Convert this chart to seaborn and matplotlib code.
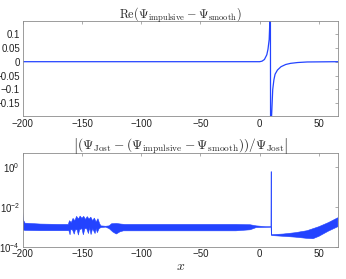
import matplotlib
matplotlib.use("Agg")
import matplotlib.pyplot as plt
import numpy as np
import pandas as pd
import seaborn as sns

# top panel: Re(Psi_impulsive - Psi_smooth)
x_re = [-200, -100, 0, 2, 4, 6, 7, 8, 8.6, 9.0, 9.2, 10, 11, 12, 13, 15, 18, 22, 26, 32, 40, 66]
y_re = [0, 0, 0, 0.002, 0.008, 0.025, 0.045, 0.08, 0.15, 0.3, -0.3, -0.2, -0.1, -0.065,
        -0.045, -0.03, -0.018, -0.01, -0.006, -0.003, -0.001, 0]

# bottom panel: upper / lower envelope of the oscillating relative error band
x_up = [-200, -199.5, -198, -185, -170, -161.5, -160.5, -159, -157.5, -156, -154.5, -153,
        -151.5, -150, -148.5, -147, -145.5, -144, -142.5, -141, -139.5, -138, -136.5, -135,
        -134, -130, -127, -125, -121, -117, -114, -100, -60, -20, -8, -3, 5, 9.5, 9.6, 9.9,
        10.1, 20, 30, 40, 50, 58, 66]
y_up = [5.5e-3, 2.2e-3, 1.5e-3, 1.35e-3, 1.3e-3, 1.3e-3, 2.0e-3, 1.6e-3, 2.6e-3, 2.0e-3,
        3.3e-3, 2.4e-3, 3.4e-3, 2.6e-3, 3.3e-3, 2.3e-3, 3.2e-3, 2.4e-3, 3.0e-3, 2.0e-3,
        2.7e-3, 1.7e-3, 2.5e-3, 1.4e-3, 1.1e-3, 1.05e-3, 1.1e-3, 1.4e-3, 1.45e-3, 1.35e-3,
        1.3e-3, 1.3e-3, 1.3e-3, 1.3e-3, 1.25e-3, 1.1e-3, 1.0e-3, 1.0e-3, 0.56, 0.56,
        4.0e-4, 4.3e-4, 5.0e-4, 6.3e-4, 1.0e-3, 1.6e-3, 2.8e-3]
x_lo = [-200, -198, -185, -170, -161, -160, -159.5, -158, -156.5, -155.5, -154, -153, -152,
        -150, -148.8, -147.5, -146, -144.5, -143.5, -142.3, -141, -138.9, -138, -137, -135.5,
        -134, -130, -127, -124, -121, -118, -115, -100, -60, -20, -8, -3, 5, 9.6, 9.9, 10.1,
        20, 30, 40, 45, 50, 58, 66]
y_lo = [7e-4, 6.5e-4, 6.3e-4, 6.3e-4, 6.3e-4, 3.9e-4, 7e-4, 7e-4, 4.2e-4, 7e-4, 7e-4,
        3.8e-4, 7e-4, 8e-4, 3.9e-4, 8e-4, 8e-4, 4.5e-4, 9e-4, 4e-4, 8e-4, 4.5e-4, 8e-4,
        5e-4, 8e-4, 9e-4, 9.5e-4, 8e-4, 5.5e-4, 4.3e-4, 5.5e-4, 6.2e-4, 6.2e-4, 6.2e-4,
        6.2e-4, 7e-4, 9e-4, 9.2e-4, 9.4e-4, 3.7e-4, 3.6e-4, 3.3e-4, 3.0e-4, 2.6e-4, 2.5e-4,
        3.3e-4, 6e-4, 1.0e-3]

xticks = [-200, -150, -100, -50, 0, 50]
yticks_top = [-0.15, -0.1, -0.05, 0, 0.05, 0.1]
ytick_labels_top = ["\u22120.15", "\u22120.1", "\u22120.05", "0", "0.05", "0.1"]
yticks_bot = [1e-4, 1e-2, 1e0]
ytick_labels_bot = [r"$\mathregular{10^{-4}}$", r"$\mathregular{10^{-2}}$", r"$\mathregular{10^{0}}$"]

blue = "#2343ff"
grey = "#8c8c8c"

sns.set_style("white")
plt.rcParams["font.family"] = ["Liberation Sans", "DejaVu Sans"]
plt.rcParams["mathtext.fontset"] = "cm"

fig = plt.figure(figsize=(3.46, 2.79), dpi=100)
ax1 = fig.add_axes([0.0656, 0.585, 0.911, 0.341])
ax2 = fig.add_axes([0.0656, 0.1158, 0.911, 0.337])

df_re = pd.DataFrame({"x": x_re, "y": y_re})
sns.lineplot(data=df_re, x="x", y="y", ax=ax1, color=blue, lw=0.9, estimator=None, sort=False)
ax1.set_xlim(-200, 66)
ax1.set_ylim(-0.195, 0.148)
ax1.set_yticks(yticks_top)
ax1.set_yticklabels(ytick_labels_top)
ax1.set_title(r"$\mathrm{Re}(\Psi_{\mathrm{impulsive}} - \Psi_{\mathrm{smooth}})$", fontsize=8.8, pad=2)

band_x = np.r_[x_up, x_lo[::-1]]
band_y = np.r_[y_up, y_lo[::-1]]
ax2.fill(band_x, band_y, color=blue, lw=0.4, ec=blue)
ax2.set_yscale("log")
ax2.set_xlim(-200, 66)
ax2.set_ylim(1e-4, 5)
ax2.set_yticks(yticks_bot)
ax2.set_yticklabels(ytick_labels_bot)
ax2.yaxis.set_minor_locator(matplotlib.ticker.NullLocator())
ax2.set_title(r"$\left|(\Psi_{\mathrm{Jost}} - (\Psi_{\mathrm{impulsive}} - \Psi_{\mathrm{smooth}}))/\Psi_{\mathrm{Jost}}\right|$",
              fontsize=9.6, pad=2)
ax2.set_xlabel(r"$x$", fontsize=10, labelpad=0)

for ax in (ax1, ax2):
    ax.set_xticks(xticks)
    ax.set_xticklabels([str(t).replace("-", "\u2212") for t in xticks])
    ax.set_ylabel("")
    if ax is ax1:
        ax.set_xlabel("")
    for s in ax.spines.values():
        s.set_color(grey)
        s.set_linewidth(0.6)
    ax.tick_params(direction="in", length=2.5, width=0.5, color=grey, labelsize=7, pad=2,
                   top=True, right=True, labelcolor="#222222")

fig.savefig("out.png", dpi=100)
